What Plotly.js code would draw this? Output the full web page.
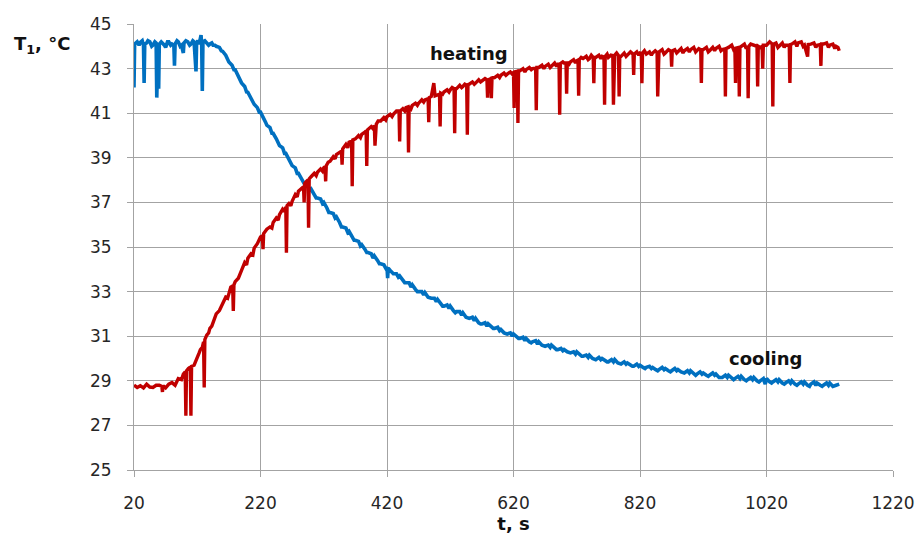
<!DOCTYPE html>
<html>
<head>
<meta charset="utf-8">
<script src="https://cdn.plot.ly/plotly-3.0.1.min.js"></script>
<style>
html,body{margin:0;padding:0;background:#fff;}
#chart{width:918px;height:536px;}
</style>
</head>
<body>
<div id="chart"></div>
<script>
// Heating curve (red): [time s, temperature °C]
const heatingPoints = [
[20,28.80],[25,28.70],[30,28.78],[35,28.68],[40,28.85],[45,28.72],[50,28.70],[55,28.80],[60,28.80],[64,28.75],[65,28.50],[66,28.78],[70,28.68],[75,28.85],[80,28.92],[85,28.80],[90,29.10],[95,29.05],[98,29.30],
[101,29.40],[102,27.43],[103,29.45],[106,29.55],[109,29.62],[110,27.43],[111,29.65],[115,29.70],[118,29.95],[120,30.05],[123,30.25],[125,30.40],[128,30.50],[130,30.75],[131,28.70],[132,30.85],[135,31.05],[138,31.15],
[140,31.35],[143,31.45],[145,31.60],[148,31.85],[150,32.00],[155,32.15],[158,32.35],[160,32.45],[165,32.75],[168,32.70],[170,32.95],[173,33.20],[176,33.25],[177,32.13],[178,33.30],[180,33.45],[185,33.60],[188,33.85],
[190,33.95],[195,34.30],[198,34.20],[200,34.50],[205,34.70],[208,34.65],[210,34.95],[215,35.15],[218,35.35],[220,35.45],[223,35.50],[224,34.90],[225,35.60],[230,35.80],[235,35.90],[238,35.85],[240,36.10],
[245,36.30],[248,36.20],[250,36.45],[255,36.70],[258,36.60],[260,36.80],[261,34.74],[262,36.85],[265,36.95],[268,36.85],[270,37.05],[275,37.35],[278,37.25],[280,37.50],[285,37.60],[288,37.70],[289,37.00],
[290,37.85],[293,37.95],[295,38.00],[296,35.86],[297,38.05],[300,38.15],[305,38.30],[308,38.20],[310,38.35],[315,38.50],[318,38.40],[320,38.55],[322,38.60],[323,37.94],[324,38.65],[327,38.80],[330,38.85],
[335,39.05],[338,38.95],[340,39.15],[345,39.25],[348,39.30],[349,38.69],[350,39.40],[355,39.60],[358,39.45],[360,39.70],[364,39.75],[365,37.72],[366,39.80],[370,39.85],[375,40.00],[378,39.90],[380,40.05],
[385,40.15],[387,40.20],[388,38.63],[389,40.25],[395,40.40],[398,40.30],[400,40.45],[401,39.54],[403,40.50],[406,40.65],[410,40.65],[415,40.80],[418,40.70],[420,40.85],[425,40.95],[428,40.85],[430,40.95],
[435,41.10],[439,41.10],[440,39.73],[441,41.10],[445,41.20],[448,41.10],[450,41.25],[453,41.28],[454,39.24],[455,41.30],[458,41.20],[460,41.35],[465,41.45],[468,41.35],[470,41.45],[475,41.60],[478,41.50],
[480,41.60],[485,41.65],[486,40.60],[487,41.70],[490,41.75],[494,42.35],[496,41.78],[500,41.80],[503,41.85],[504,40.40],[505,41.90],[508,41.85],[510,41.95],[515,42.05],[518,41.95],[520,42.05],[523,42.15],
[526,42.10],[527,40.10],[528,42.10],[530,42.10],[535,42.25],[538,42.15],[540,42.20],[543,42.30],[546,42.25],[547,40.03],[548,42.28],[550,42.30],[555,42.40],[558,42.30],[560,42.35],[565,42.50],[568,42.40],
[570,42.45],[575,42.55],[578,42.50],[579,41.70],[580,42.50],[584,42.55],[585,41.67],[586,42.58],[590,42.60],[595,42.70],[598,42.60],[600,42.70],[605,42.80],[608,42.70],[610,42.75],[615,42.85],[618,42.75],
[620,42.85],[621,41.23],[622,42.85],[626,42.88],[627,40.56],[628,42.90],[630,42.90],[635,43.00],[638,42.85],[640,42.95],[645,43.05],[648,42.95],[650,43.00],[655,43.02],[656,41.13],[657,43.05],[660,43.05],
[665,43.15],[668,43.00],[670,43.10],[675,43.20],[678,43.05],[680,43.10],[685,43.25],[688,43.10],[690,43.20],[692,43.20],[693,40.93],[694,43.22],[698,43.30],[700,43.25],[703,43.25],[704,41.87],[705,43.28],
[708,43.20],[710,43.30],[715,43.40],[718,43.25],[720,43.35],[722,43.38],[723,41.78],[724,43.40],[727,43.50],[730,43.45],[735,43.55],[738,43.40],[740,43.45],[743,43.60],[746,43.50],[747,42.35],[748,43.50],
[750,43.50],[755,43.60],[758,43.45],[760,43.55],[763,43.52],[764,41.38],[765,43.55],[768,43.65],[770,43.50],[774,43.60],[777,43.58],[778,41.38],[779,43.60],[780,43.60],[783,43.70],[786,43.58],[787,41.75],
[788,43.55],[790,43.55],[795,43.70],[798,43.55],[800,43.60],[805,43.75],[809,43.65],[810,42.72],[811,43.65],[815,43.75],[818,43.60],[820,43.70],[822,43.68],[823,42.35],[824,43.70],[827,43.80],[830,43.65],
[835,43.75],[838,43.60],[840,43.70],[844,43.80],[847,43.72],[848,41.75],[849,43.75],[850,43.75],[855,43.85],[858,43.65],[860,43.70],[865,43.85],[869,43.78],[870,43.09],[871,43.80],[875,43.85],[878,43.70],
[880,43.75],[885,43.90],[888,43.70],[890,43.80],[895,43.90],[898,43.75],[900,43.85],[905,43.95],[908,43.75],[910,43.80],[913,43.90],[916,43.85],[917,42.35],[918,43.85],[920,43.85],[925,43.95],[928,43.75],
[930,43.80],[935,43.95],[938,43.80],[940,43.90],[945,44.00],[948,43.80],[950,43.85],[954,43.88],[955,41.75],[956,43.90],[960,43.95],[965,44.05],[968,43.85],[970,43.90],[971,42.35],[972,43.92],[976,43.95],
[977,41.75],[978,43.95],[980,44.00],[985,44.10],[988,43.90],[990,44.00],[991,41.67],[992,44.00],[995,44.10],[1000,44.05],[1005,44.00],[1006,42.20],[1007,44.00],[1010,43.95],[1013,44.00],[1014,43.00],
[1015,44.05],[1020,44.05],[1025,44.20],[1029,44.10],[1030,41.30],[1031,44.10],[1035,44.15],[1038,43.95],[1040,44.00],[1045,44.15],[1048,43.95],[1050,44.05],[1056,44.05],[1057,42.35],[1058,44.08],[1060,44.10],
[1065,44.20],[1068,44.00],[1070,44.15],[1075,44.20],[1078,44.00],[1080,44.05],[1085,43.54],[1086,44.08],[1090,44.10],[1095,44.15],[1098,43.95],[1100,44.05],[1105,44.08],[1106,43.12],[1107,44.10],[1110,44.10],
[1115,44.15],[1118,43.95],[1120,44.05],[1125,44.10],[1128,43.90],[1130,44.00],[1133,43.95],[1135,43.80]
];

// Cooling curve (blue): [time s, temperature °C]
const coolingPoints = [
[20,42.15],[21,44.10],[25,44.20],[28,44.05],[30,44.18],[33,44.25],[35,44.05],[36,42.35],[37,44.10],[40,44.15],[42,44.25],[45,44.20],[48,44.00],[50,44.05],[53,44.20],[55,44.15],[56,41.70],[58,44.00],[59,42.10],
[60,44.10],[63,44.20],[65,44.15],[68,44.05],[70,43.95],[73,44.20],[75,44.20],[78,44.05],[80,44.10],[83,44.05],[84,43.13],[85,44.10],[88,44.25],[90,44.20],[93,44.00],[95,44.05],[98,43.70],[99,44.15],
[102,44.25],[105,44.20],[108,44.05],[110,44.10],[113,44.25],[115,44.20],[118,42.87],[119,44.15],[121,44.25],[123,44.10],[126,44.50],[127,44.10],[128,42.00],[129,44.20],[132,44.25],[135,44.15],[138,44.05],
[140,44.10],[143,44.15],[145,44.05],[148,44.05],[150,44.00],[155,43.95],[158,43.80],[160,43.78],[165,43.60],[168,43.40],[170,43.30],[175,43.15],[178,42.95],[180,42.95],[185,42.65],[188,42.50],[190,42.36],
[195,42.20],[198,41.95],[200,41.94],[205,41.70],[208,41.50],[210,41.40],[215,41.25],[218,41.05],[220,41.05],[225,40.80],[228,40.60],[230,40.46],[235,40.35],[238,40.10],[240,40.10],[245,39.85],[248,39.65],
[250,39.55],[255,39.45],[258,39.20],[260,39.20],[265,38.95],[268,38.75],[270,38.65],[275,38.55],[278,38.30],[280,38.30],[285,38.05],[288,37.85],[290,37.80],[295,37.75],[298,37.55],[300,37.60],[305,37.35],
[308,37.20],[310,37.20],[315,37.15],[318,36.95],[320,37.00],[325,36.75],[328,36.55],[330,36.55],[335,36.50],[338,36.30],[340,36.35],[345,36.10],[348,35.90],[350,35.90],[355,35.85],[358,35.65],[360,35.70],
[365,35.45],[368,35.30],[370,35.30],[375,35.25],[378,35.05],[380,35.10],[385,34.90],[388,34.75],[390,34.75],[395,34.70],[398,34.50],[400,34.60],[405,34.40],[408,34.25],[410,34.25],[415,34.20],[418,34.05],
[420,34.10],[421,33.60],[422,34.05],[425,33.95],[428,33.85],[430,33.80],[435,33.80],[438,33.65],[440,33.70],[445,33.50],[448,33.40],[450,33.40],[455,33.40],[458,33.20],[460,33.30],[465,33.10],[468,33.00],
[470,33.00],[475,33.00],[478,32.85],[480,32.95],[485,32.75],[488,32.70],[490,32.70],[495,32.70],[498,32.55],[500,32.65],[505,32.45],[508,32.35],[510,32.35],[515,32.40],[518,32.25],[520,32.35],[525,32.15],
[528,32.05],[530,32.10],[535,32.10],[538,31.95],[540,32.05],[545,31.85],[548,31.80],[550,31.80],[555,31.85],[558,31.70],[560,31.80],[565,31.60],[568,31.55],[570,31.55],[575,31.60],[578,31.45],[580,31.55],
[585,31.40],[588,31.35],[590,31.35],[595,31.40],[598,31.25],[600,31.30],[605,31.15],[608,31.10],[610,31.10],[615,31.15],[618,31.00],[620,31.10],[625,30.95],[628,30.90],[630,30.90],[635,30.95],[638,30.80],
[640,30.90],[645,30.75],[648,30.70],[650,30.75],[655,30.80],[658,30.65],[660,30.75],[665,30.60],[668,30.55],[670,30.55],[675,30.60],[678,30.50],[680,30.60],[685,30.45],[688,30.40],[690,30.40],[695,30.45],
[698,30.35],[700,30.40],[705,30.30],[708,30.25],[710,30.25],[715,30.30],[718,30.20],[720,30.30],[725,30.15],[728,30.10],[730,30.10],[735,30.15],[738,30.05],[740,30.15],[745,30.00],[748,29.95],[750,29.95],
[755,30.05],[758,29.95],[760,30.00],[765,29.90],[768,29.85],[770,29.85],[775,29.95],[778,29.85],[780,29.95],[785,29.80],[788,29.75],[790,29.75],[795,29.85],[798,29.75],[800,29.80],[805,29.70],[808,29.65],
[810,29.65],[815,29.75],[818,29.65],[820,29.70],[825,29.60],[828,29.55],[830,29.60],[835,29.65],[838,29.55],[840,29.60],[845,29.50],[848,29.45],[850,29.50],[855,29.60],[858,29.50],[860,29.55],[865,29.45],
[868,29.40],[870,29.45],[875,29.55],[878,29.45],[880,29.50],[885,29.40],[888,29.35],[890,29.35],[895,29.45],[898,29.35],[900,29.45],[905,29.30],[908,29.25],[910,29.30],[915,29.40],[918,29.30],[920,29.35],
[925,29.25],[928,29.20],[930,29.25],[935,29.35],[938,29.25],[940,29.30],[945,29.15],[948,29.15],[950,29.15],[955,29.25],[958,29.15],[960,29.25],[965,29.10],[968,29.05],[970,29.10],[975,29.20],[978,29.10],
[980,29.20],[985,29.05],[988,29.00],[990,29.05],[995,29.15],[998,29.05],[1000,29.15],[1005,29.00],[1008,28.95],[1010,29.00],[1015,29.10],[1018,28.85],[1020,29.10],[1025,28.95],[1028,28.90],[1030,28.95],
[1035,29.05],[1038,28.95],[1040,29.05],[1045,28.90],[1048,28.85],[1050,28.90],[1055,29.00],[1058,28.90],[1060,29.00],[1065,28.85],[1068,28.80],[1070,28.85],[1075,28.95],[1078,28.85],[1080,28.95],[1085,28.80],
[1088,28.75],[1090,28.85],[1095,28.95],[1098,28.80],[1100,28.90],[1105,28.80],[1108,28.75],[1110,28.80],[1115,28.90],[1118,28.80],[1120,28.90],[1125,28.75],[1128,28.80],[1130,28.80],[1135,28.85]
];

const xTicks = [20,220,420,620,820,1020,1220];
const yTicks = [25,27,29,31,33,35,37,39,41,43,45];

const gridCol = '#a3a3a3';
const tickFont = {family: 'DejaVu Sans, sans-serif', size: 17, color: '#262626'};
const boldFont = {family: 'DejaVu Sans, sans-serif', size: 18, color: '#111', weight: 'bold'};

const traces = [
  {x: coolingPoints.map(p => p[0]), y: coolingPoints.map(p => p[1]),
   type: 'scatter', mode: 'lines', name: 'cooling',
   line: {color: '#0070C0', width: 3.6}},
  {x: heatingPoints.map(p => p[0]), y: heatingPoints.map(p => p[1]),
   type: 'scatter', mode: 'lines', name: 'heating',
   line: {color: '#C00000', width: 3.4}}
];

const layout = {
  width: 918, height: 536,
  margin: {l: 134, r: 25, t: 24, b: 66},
  paper_bgcolor: '#fff', plot_bgcolor: '#fff',
  showlegend: false,
  xaxis: {
    range: [20, 1220], tickvals: xTicks, ticktext: xTicks.map(String),
    showgrid: true, gridcolor: gridCol, gridwidth: 1,
    showline: true, linecolor: gridCol, linewidth: 1,
    zeroline: false, ticks: 'outside', ticklen: 6, tickcolor: gridCol,
    tickfont: tickFont, ticklabelstandoff: 12,
    title: {text: '<b>t, s</b>', font: boldFont, standoff: 3}
  },
  yaxis: {
    range: [25, 45], tickvals: yTicks, ticktext: yTicks.map(String),
    showgrid: true, gridcolor: gridCol, gridwidth: 1,
    showline: true, linecolor: gridCol, linewidth: 1,
    zeroline: false, ticks: 'outside', ticklen: 6, tickcolor: gridCol,
    tickfont: tickFont, ticklabelstandoff: 12
  },
  annotations: [
    {text: '<b>T<sub>1</sub>, °C</b>', xref: 'paper', yref: 'paper',
     x: -0.161, y: 0.953, xanchor: 'left', yanchor: 'middle',
     showarrow: false, font: boldFont},
    {text: '<b>heating</b>', xref: 'x', yref: 'y', x: 549, y: 43.66,
     xanchor: 'center', yanchor: 'middle', showarrow: false, font: boldFont},
    {text: '<b>cooling</b>', xref: 'x', yref: 'y', x: 1019, y: 30.01,
     xanchor: 'center', yanchor: 'middle', showarrow: false, font: boldFont}
  ]
};

Plotly.newPlot('chart', traces, layout, {staticPlot: true, displayModeBar: false});
</script>
</body>
</html>
